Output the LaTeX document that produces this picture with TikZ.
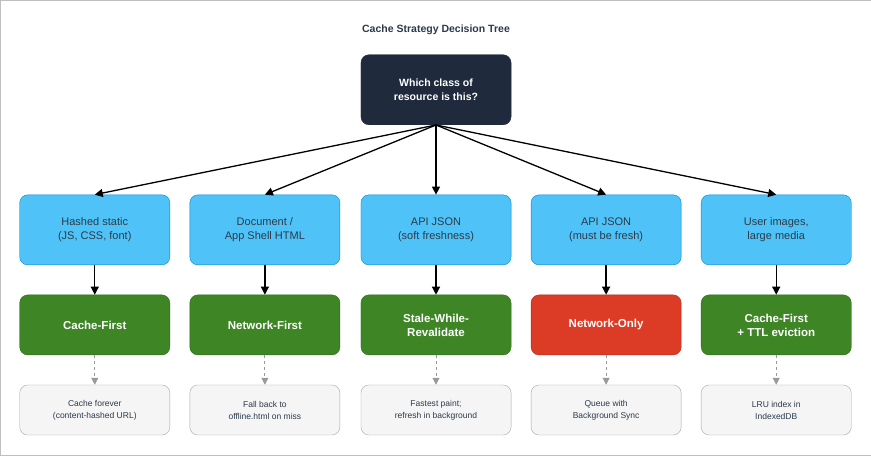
\documentclass[tikz,border=0pt]{standalone}
\usepackage{fontspec}
\setmainfont{Liberation Sans}
\usetikzlibrary{arrows.meta}
\definecolor{dark}{HTML}{1F2A3C}
\definecolor{txt}{HTML}{2B3A4A}
\definecolor{blu}{HTML}{4FC3F7}
\definecolor{bluD}{HTML}{0288D1}
\definecolor{grn}{HTML}{3E8625}
\definecolor{grnD}{HTML}{2D6A1A}
\definecolor{rd}{HTML}{DC3B26}
\definecolor{rdD}{HTML}{B02A18}
\begin{document}
\begin{tikzpicture}[x=1pt,y=-1pt,
 box/.style={rounded corners=8pt,minimum width=150pt,align=center,inner sep=0pt},
 cls/.style={box,minimum height=70pt,fill=blu,draw=bluD,text=txt,font=\fontsize{11}{14}\selectfont},
 str/.style={box,minimum height=60pt,fill=grn,draw=grnD,text=white,font=\bfseries\fontsize{11.5}{14}\selectfont},
 bad/.style={str,fill=rd,draw=rdD},
 note/.style={box,minimum height=50pt,fill=gray!8,draw=gray!70,text=txt,font=\fontsize{8.5}{12}\selectfont},
 arr/.style={-{Triangle[length=8pt,width=8pt]},line width=1.3pt},
 darr/.style={-{Triangle[length=7pt,width=7pt]},line width=1pt,draw=gray!80,dash pattern=on 3pt off 3pt}]
\draw[gray!50,fill=white] (0.5,0.5) rectangle (870.5,455.5);
\node[font=\bfseries\fontsize{10.5}{12}\selectfont,text=txt] (title) at (436,30) {Cache Strategy Decision Tree};
\node[box,minimum height=70pt,fill=dark,draw=dark,text=white,font=\bfseries\fontsize{10.5}{14}\selectfont] (root) at (436,90) {Which class of\\resource is this?};
\node[cls] (c1) at (95,230) {Hashed static\\(JS, CSS, font)};
\node[cls] (c2) at (265,230) {Document /\\App Shell HTML};
\node[cls] (c3) at (436,230) {API JSON\\(soft freshness)};
\node[cls] (c4) at (606,230) {API JSON\\(must be fresh)};
\node[cls] (c5) at (776,230) {User images,\\large media};
\node[str] (s1) at (95,325) {Cache-First};
\node[str] (s2) at (265,325) {Network-First};
\node[str] (s3) at (436,325) {Stale-While-\\Revalidate};
\node[bad] (s4) at (606,325) {Network-Only};
\node[str] (s5) at (776,325) {Cache-First\\+ TTL eviction};
\node[note] (n1) at (95,410) {Cache forever\\(content-hashed URL)};
\node[note] (n2) at (265,410) {Fall back to\\offline.html on miss};
\node[note] (n3) at (436,410) {Fastest paint;\\refresh in background};
\node[note] (n4) at (606,410) {Queue with\\Background Sync};
\node[note] (n5) at (776,410) {LRU index in\\IndexedDB};
\foreach \i in {1,...,5}{
 \draw[arr] (root.south) -- (c\i.north);
 \draw[arr] (c\i) -- (s\i);
 \draw[darr] (s\i) -- (n\i);
}
\end{tikzpicture}
\end{document}
